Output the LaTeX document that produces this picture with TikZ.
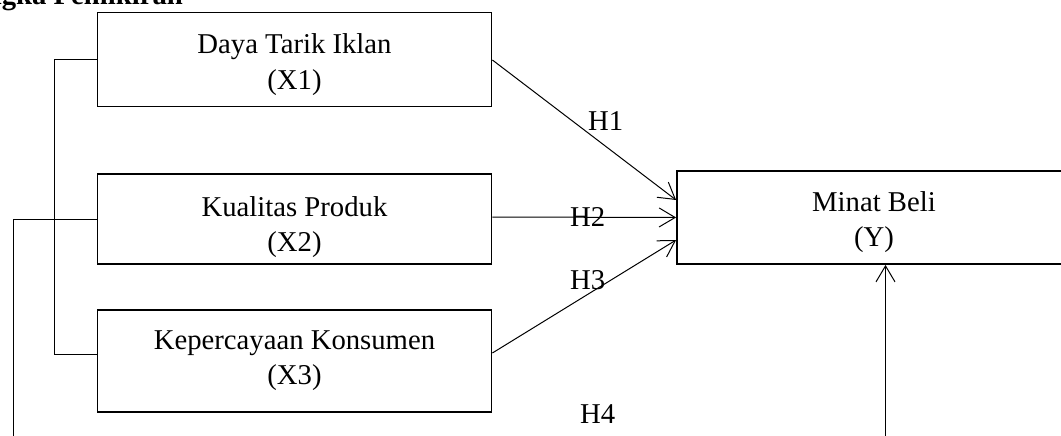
\documentclass[tikz,border=0pt]{standalone}
\usepackage{fontspec}
\setmainfont{Liberation Serif}
\usetikzlibrary{arrows.meta}
\begin{document}
\begin{tikzpicture}[x=1pt,y=-1pt,
  box/.style={draw, line width=1.8pt, minimum width=394pt, inner sep=0pt},
  lbl/.style={font=\fontsize{28.7}{35}\selectfont, inner sep=0pt, anchor=base},
  hlbl/.style={font=\fontsize{28.7}{35}\selectfont, inner sep=0pt, anchor=base west},
  conn/.style={line width=1pt},
  arr/.style={conn, -{Straight Barb[length=16pt,width=19pt]}}]
\useasboundingbox (0,0) rectangle (1061,436);
% title (cut off at the top, as in the reference)
\node[font=\bfseries\fontsize{28.7}{35}\selectfont, inner sep=0pt, anchor=base east] (title) at (183,4.5) {Kerangka Pemikiran};
% boxes
\node[box, minimum height=94pt] (x1) at (294.5,59.5) {};
\node[box, minimum height=90pt] (x2) at (294.5,219) {};
\node[box, minimum height=102pt] (x3) at (294.5,361) {};
\node[box, minimum height=93pt] (y) at (874,217.5) {};
% texts
\node[lbl] (t1a) at (294.5,54) {Daya Tarik Iklan};
\node[lbl] (t1b) at (294.5,89) {(X1)};
\node[lbl] (t2a) at (294.5,216) {Kualitas Produk};
\node[lbl] (t2b) at (294.5,251) {(X2)};
\node[lbl] (t3a) at (294.5,349) {Kepercayaan Konsumen};
\node[lbl] (t3b) at (294.5,384) {(X3)};
\node[lbl] (tya) at (874,211.7) {Minat Beli};
\node[lbl] (tyb) at (874,246.7) {(Y)};
% hypothesis labels
\node[hlbl] (h1) at (588,130.7) {H1};
\node[hlbl] (h2) at (570,226) {H2};
\node[hlbl] (h3) at (570,289.3) {H3};
\node[hlbl] (h4) at (580,423) {H4};
% left brackets
\draw[conn] (x1.west) -- ++(-42.5,0) |- ([yshift=7pt]x3.west);
\coordinate (e2) at (13,445);
\draw[conn] (x2.west) -| (e2);
% arrows to Y
\draw[arr] ([yshift=-0.5pt]x1.east) -- ([yshift=17.5pt]y.west);
\draw[arr] ([yshift=2pt]x2.east) -- (y.west);
\draw[arr] ([yshift=8pt]x3.east) -- ([yshift=-22.5pt]y.west);
\coordinate (e4) at (885.5,445);
\draw[arr] (e4) -- (e4 |- y.south);
\end{tikzpicture}
\end{document}
